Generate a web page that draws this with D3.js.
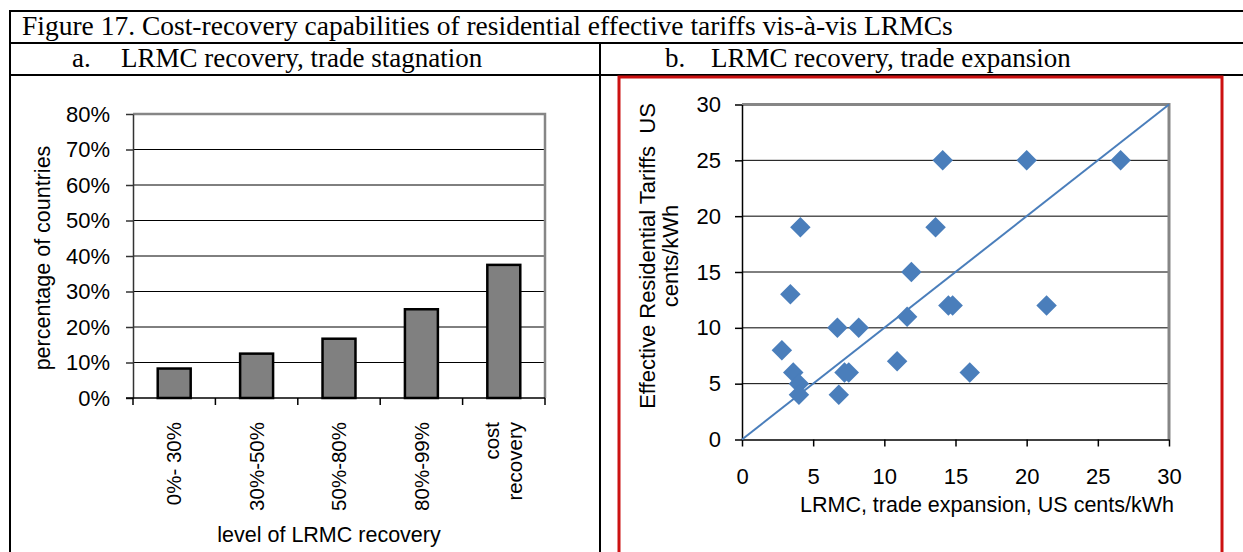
<!DOCTYPE html>
<html>
<head>
<meta charset="utf-8">
<script src="https://cdn.jsdelivr.net/npm/d3@7"></script>
<style>
  body { margin: 0; background: #fff; }
  svg { display: block; }
</style>
</head>
<body>
<div id="chart"></div>
<script>
'use strict';

// panel a: share of countries by level of LRMC recovery
const recoveryLevels = ['0%- 30%', '30%-50%', '50%-80%', '80%-99%', 'cost recovery']
const countryShare = [0.083, 0.125, 0.167, 0.25, 0.375]
const shareTicks = [0, 0.1, 0.2, 0.3, 0.4, 0.5, 0.6, 0.7, 0.8]

// panel b: LRMC (trade expansion) vs effective residential tariff, US cents/kWh
const lrmc = [2.8, 3.4, 3.6, 4.0, 4.0, 4.1, 6.7, 6.8, 7.2, 7.5, 8.2, 10.9, 11.6, 11.9, 13.6, 14.1, 14.5, 14.8, 16.0, 20.0, 21.4, 26.6]
const tariff = [8, 13, 6, 5, 4, 19, 10, 4, 6, 6, 10, 7, 11, 15, 19, 25, 12, 12, 6, 25, 12, 25]
const centTicks = [0, 5, 10, 15, 20, 25, 30]

const width = 1243
const height = 552
const sans = '"Liberation Sans", Arial, sans-serif'
const serif = '"Liberation Serif", "Times New Roman", serif'
const tickSize = '22px'
const titleSize = '21.5px'

const svg = d3.select('#chart')
  .append('svg')
  .attr('width', width)
  .attr('height', height)

// table frame round the figure
const frame = svg.append('g')
  .attr('stroke', '#000')
  .attr('stroke-width', 2)
frame.append('line').attr('x1', 9).attr('x2', width).attr('y1', 11).attr('y2', 11)
frame.append('line').attr('x1', 9).attr('x2', width).attr('y1', 43).attr('y2', 43)
frame.append('line').attr('x1', 9).attr('x2', width).attr('y1', 75).attr('y2', 75)
frame.append('line').attr('x1', 10).attr('x2', 10).attr('y1', 10).attr('y2', height)
frame.append('line').attr('x1', 600).attr('x2', 600).attr('y1', 43).attr('y2', height)

svg.append('text')
  .attr('x', 22)
  .attr('y', 35)
  .style('font-family', serif)
  .style('font-size', '27.5px')
  .text('Figure 17. Cost-recovery capabilities of residential effective tariffs vis-à-vis LRMCs')

const subtitles = [
  {label: 'a.', x: 72, text: 'LRMC recovery, trade stagnation', tx: 121},
  {label: 'b.', x: 665, text: 'LRMC recovery, trade expansion', tx: 711}
]
subtitles.forEach(s => {
  svg.append('text').attr('x', s.x).attr('y', 67)
    .style('font-family', serif).style('font-size', '27px').text(s.label)
  svg.append('text').attr('x', s.tx).attr('y', 67)
    .style('font-family', serif).style('font-size', '27px').text(s.text)
})

// red box round panel b
svg.append('rect')
  .attr('x', 619)
  .attr('y', 77)
  .attr('width', 603)
  .attr('height', 490)
  .attr('fill', 'none')
  .attr('stroke', '#cc1111')
  .attr('stroke-width', 3)

// ---------- panel a: bar chart ----------
const barDims = {left: 133, right: 545, top: 114, bottom: 398}

const xBand = d3.scaleBand()
  .domain(recoveryLevels)
  .range([barDims.left, barDims.right])
  .paddingInner(0)
  .paddingOuter(0)

const yShare = d3.scaleLinear()
  .domain([0, 0.8])
  .range([barDims.bottom, barDims.top])

const barG = svg.append('g')

// gridlines
barG.append('g')
  .selectAll('line')
  .data(shareTicks.slice(1, -1))
  .join('line')
  .attr('x1', barDims.left)
  .attr('x2', barDims.right)
  .attr('y1', d => yShare(d))
  .attr('y2', d => yShare(d))
  .attr('stroke', '#000')
  .attr('stroke-width', 1)

// top and right border in grey
barG.append('path')
  .attr('d', `M${barDims.left},${yShare(0.8)}H${barDims.right}V${barDims.bottom}`)
  .attr('fill', 'none')
  .attr('stroke', '#868686')
  .attr('stroke-width', 2.5)

// bars
const barWidth = xBand.bandwidth() * 0.4
barG.append('g')
  .selectAll('rect')
  .data(countryShare)
  .join('rect')
  .attr('x', (d, i) => xBand(recoveryLevels[i]) + (xBand.bandwidth() - barWidth) / 2)
  .attr('y', d => yShare(d))
  .attr('width', barWidth)
  .attr('height', d => yShare(0) - yShare(d))
  .attr('fill', '#808080')
  .attr('stroke', '#000')
  .attr('stroke-width', 2.5)

// y axis
const yAxisA = d3.axisLeft(yShare)
  .tickValues(shareTicks)
  .tickFormat(d3.format('.0%'))
  .tickSizeInner(7)
  .tickSizeOuter(0)
  .tickPadding(16)
const yAxisAG = barG.append('g')
  .attr('transform', `translate(${barDims.left},0)`)
  .call(yAxisA)
yAxisAG.selectAll('text')
  .style('font-family', sans)
  .style('font-size', tickSize)
  .attr('fill', '#000')
yAxisAG.selectAll('line, path').attr('stroke', '#333').attr('stroke-width', 1.5)

// x axis: ticks on the band edges
const xEdges = recoveryLevels.map(d => xBand(d)).concat([barDims.right])
barG.append('line')
  .attr('x1', barDims.left - 7)
  .attr('x2', barDims.right)
  .attr('y1', barDims.bottom)
  .attr('y2', barDims.bottom)
  .attr('stroke', '#000')
  .attr('stroke-width', 1.5)
barG.append('g')
  .selectAll('line')
  .data(xEdges)
  .join('line')
  .attr('x1', d => d)
  .attr('x2', d => d)
  .attr('y1', barDims.bottom)
  .attr('y2', barDims.bottom + 7)
  .attr('stroke', '#000')
  .attr('stroke-width', 1.5)

// rotated category labels, the long one split in two lines
barG.append('g')
  .selectAll('text')
  .data(recoveryLevels)
  .join('text')
  .attr('transform', d => `translate(${xBand(d) + xBand.bandwidth() / 2},${barDims.bottom + 24}) rotate(-90)`)
  .attr('text-anchor', 'end')
  .style('font-family', sans)
  .style('font-size', '20.5px')
  .each(function(d){
    const words = d === 'cost recovery' ? ['cost', 'recovery'] : [d]
    const lineH = 23
    d3.select(this).selectAll('tspan')
      .data(words)
      .join('tspan')
      .attr('x', 0)
      .attr('y', (w, i) => (i - (words.length - 1) / 2) * lineH)
      .attr('dy', '0.35em')
      .text(w => w)
  })

barG.append('text')
  .attr('x', 329)
  .attr('y', 542)
  .attr('text-anchor', 'middle')
  .style('font-family', sans)
  .style('font-size', titleSize)
  .text('level of LRMC recovery')

barG.append('text')
  .attr('transform', `translate(50,258) rotate(-90)`)
  .attr('text-anchor', 'middle')
  .style('font-family', sans)
  .style('font-size', titleSize)
  .text('percentage of countries')

// ---------- panel b: scatter ----------
const scatDims = {left: 742, right: 1169, top: 104.5, bottom: 439.5}

const xCent = d3.scaleLinear()
  .domain([0, 30])
  .range([scatDims.left, scatDims.right])
const yCent = d3.scaleLinear()
  .domain([0, 30])
  .range([scatDims.bottom, scatDims.top])

const scatG = svg.append('g')

scatG.append('g')
  .selectAll('line')
  .data(centTicks.slice(1, -1))
  .join('line')
  .attr('x1', scatDims.left)
  .attr('x2', scatDims.right)
  .attr('y1', d => yCent(d))
  .attr('y2', d => yCent(d))
  .attr('stroke', '#000')
  .attr('stroke-width', 1)

scatG.append('path')
  .attr('d', `M${scatDims.left},${yCent(30)}H${scatDims.right}V${scatDims.bottom}`)
  .attr('fill', 'none')
  .attr('stroke', '#868686')
  .attr('stroke-width', 3)

const yAxisB = d3.axisLeft(yCent)
  .tickValues(centTicks)
  .tickSizeInner(7)
  .tickSizeOuter(0)
  .tickPadding(14)
const yAxisBG = scatG.append('g')
  .attr('transform', `translate(${scatDims.left},0)`)
  .call(yAxisB)

const xAxisB = d3.axisBottom(xCent)
  .tickValues(centTicks)
  .tickSizeInner(7)
  .tickSizeOuter(0)
  .tickPadding(22)
const xAxisBG = scatG.append('g')
  .attr('transform', `translate(0,${scatDims.bottom})`)
  .call(xAxisB)

scatG.selectAll('.tick text')
  .style('font-family', sans)
  .style('font-size', tickSize)
  .attr('fill', '#000')
scatG.selectAll('.domain, .tick line').attr('stroke', '#000').attr('stroke-width', 1.5)

// 45 degree reference line
scatG.append('line')
  .attr('x1', xCent(0))
  .attr('y1', yCent(0))
  .attr('x2', xCent(30))
  .attr('y2', yCent(30))
  .attr('stroke', '#4a7ebb')
  .attr('stroke-width', 2)

// diamonds
const diamond = d3.symbol().type(d3.symbolSquare).size(210)
scatG.append('g')
  .selectAll('path')
  .data(lrmc)
  .join('path')
  .attr('d', diamond)
  .attr('transform', (d, i) => `translate(${xCent(d)},${yCent(tariff[i])}) rotate(45)`)
  .attr('fill', '#4a7ebb')

scatG.append('text')
  .attr('x', 987)
  .attr('y', 512)
  .attr('text-anchor', 'middle')
  .style('font-family', sans)
  .style('font-size', titleSize)
  .text('LRMC, trade expansion, US cents/kWh')

const yTitle = scatG.append('text')
  .attr('transform', 'translate(659,256) rotate(-90)')
  .attr('text-anchor', 'middle')
  .style('font-family', sans)
  .style('font-size', '22px')
yTitle.append('tspan').attr('x', 0).attr('y', -4).text('Effective Residential Tariffs\u00a0\u00a0US')
yTitle.append('tspan').attr('x', 0).attr('y', 19).text('cents/kWh')
</script>
</body>
</html>
